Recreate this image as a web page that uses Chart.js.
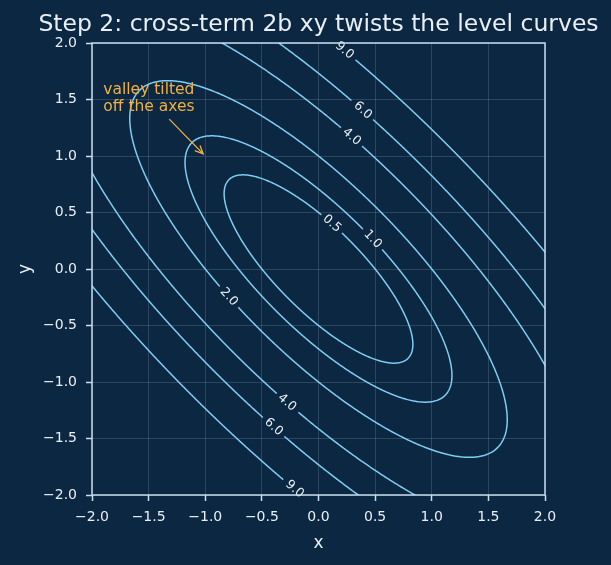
<!DOCTYPE html>
<html>
<head>
<meta charset="utf-8">
<script src="https://cdn.jsdelivr.net/npm/chart.js@4.4.1/dist/chart.umd.min.js"></script>
<style>
  html, body { margin: 0; padding: 0; background: #0b2741; }
  canvas { display: block; }
</style>
</head>
<body>
<canvas id="levelChart" width="611" height="565"></canvas>
<script>
// --- DATA ---
// quadratic form f(x, y) = a x^2 + 2b xy + c y^2
const coefA = 2;
const coefB = 1.6;
const coefC = 2;
const levels = [0.5, 1, 2, 4, 6, 9];

// inline contour labels: level + rough spot where it sits
const labelLevels = [9, 6, 4, 0.5, 1, 2, 4, 6, 9];
const labelX = [0.23, 0.39, 0.29, 0.12, 0.49, -0.80, -0.28, -0.40, -0.21];
const labelY = [1.94, 1.40, 1.16, 0.41, 0.27, -0.25, -1.19, -1.41, -1.94];

const tickValues = [-2, -1.5, -1, -0.5, 0, 0.5, 1, 1.5, 2];

const noteLines = ['valley tilted', 'off the axes'];
const noteText = [-1.9, 1.4];   // bottom-left of the text block
const noteTarget = [-1.0, 1.0];

// --- COLOURS ---
const bgColor = '#0b2741';
const lineColor = '#7fcdf3';
const frameColor = '#c9ddee';
const textColor = '#e9eff5';
const noteColor = '#f0b044';
const FONT = '"DejaVu Sans", "Liberation Sans", sans-serif';

function quad(x, y) {
    return coefA * x * x + 2 * coefB * x * y + coefC * y * y;
}

// move a rough spot onto the level curve
function onLevel(lvl, x, y) {
    const k = Math.sqrt(lvl / quad(x, y));
    return [x * k, y * k];
}

// --- BUILD THE LEVEL CURVES ---
const steps = 720;
const gapRadius = 0.12;

const datasets = levels.map(lvl => {
    const spots = [];
    labelLevels.forEach((l, i) => {
        if (l === lvl) spots.push(onLevel(lvl, labelX[i], labelY[i]));
    });

    const pts = [];
    for (let i = 0; i <= steps; i++) {
        const t = (i / steps) * Math.PI * 2;
        const dx = Math.cos(t), dy = Math.sin(t);
        const r = Math.sqrt(lvl / quad(dx, dy));
        const px = r * dx, py = r * dy;
        const hidden = spots.some(([sx, sy]) => Math.hypot(px - sx, py - sy) < gapRadius);
        pts.push(hidden ? { x: px, y: null } : { x: px, y: py });
    }

    return {
        label: lvl.toFixed(1),
        data: pts,
        showLine: true,
        spanGaps: false,
        borderColor: lineColor,
        borderWidth: 1.5,
        pointRadius: 0,
        // tiny tension keeps Chart.js off its pixel-column fast path (jaggy on steep parts)
        tension: 0.001,
        clip: 0
    };
});

// --- PLUGINS ---
const backdrop = {
    id: 'backdrop',
    beforeDraw(chart) {
        const { ctx, width, height } = chart;
        ctx.save();
        ctx.fillStyle = bgColor;
        ctx.fillRect(0, 0, width, height);
        ctx.restore();
    }
};

const overlay = {
    id: 'overlay',
    afterDatasetsDraw(chart) {
        const { ctx, chartArea: area, scales: { x, y } } = chart;
        const sx = x.getPixelForValue(1) - x.getPixelForValue(0);
        const sy = y.getPixelForValue(1) - y.getPixelForValue(0);

        ctx.save();

        // contour labels
        ctx.font = `12.5px ${FONT}`;
        ctx.fillStyle = textColor;
        ctx.textAlign = 'center';
        ctx.textBaseline = 'middle';
        labelLevels.forEach((lvl, i) => {
            const [px, py] = onLevel(lvl, labelX[i], labelY[i]);
            const gx = 2 * coefA * px + 2 * coefB * py;
            const gy = 2 * coefB * px + 2 * coefC * py;
            let ang = Math.atan2(gx * sy, -gy * sx);
            if (ang > Math.PI / 2) ang -= Math.PI;
            if (ang < -Math.PI / 2) ang += Math.PI;
            ctx.save();
            ctx.translate(x.getPixelForValue(px), y.getPixelForValue(py));
            ctx.rotate(ang);
            ctx.fillText(lvl.toFixed(1), 0, 0);
            ctx.restore();
        });

        // annotation text
        ctx.font = `15.5px ${FONT}`;
        ctx.fillStyle = noteColor;
        ctx.textAlign = 'left';
        ctx.textBaseline = 'alphabetic';
        const lineH = 17;
        const tx = x.getPixelForValue(noteText[0]);
        const ty = y.getPixelForValue(noteText[1]);
        let boxW = 0;
        noteLines.forEach((line, i) => {
            ctx.fillText(line, tx, ty - (noteLines.length - 1 - i) * lineH);
            boxW = Math.max(boxW, ctx.measureText(line).width);
        });

        // arrow from text box to target
        const boxTop = ty - (noteLines.length - 1) * lineH - 12;
        const boxBottom = ty + 4;
        const cx = tx + boxW / 2, cy = (boxTop + boxBottom) / 2;
        const hx = x.getPixelForValue(noteTarget[0]);
        const hy = y.getPixelForValue(noteTarget[1]);
        const dx = hx - cx, dy = hy - cy;
        const len = Math.hypot(dx, dy);
        const ux = dx / len, uy = dy / len;
        const tExit = Math.min(
            Math.abs((boxW / 2) / (ux || 1e-9)),
            Math.abs(((boxBottom - boxTop) / 2) / (uy || 1e-9))
        ) + 6;
        const ax = cx + ux * tExit, ay = cy + uy * tExit;
        const bx = hx - ux * 3, by = hy - uy * 3;
        ctx.strokeStyle = noteColor;
        ctx.lineWidth = 1.3;
        ctx.beginPath();
        ctx.moveTo(ax, ay);
        ctx.lineTo(bx, by);
        const headLen = 9, headAng = 0.42;
        const base = Math.atan2(uy, ux);
        ctx.moveTo(bx - headLen * Math.cos(base - headAng), by - headLen * Math.sin(base - headAng));
        ctx.lineTo(bx, by);
        ctx.lineTo(bx - headLen * Math.cos(base + headAng), by - headLen * Math.sin(base + headAng));
        ctx.stroke();

        // frame (all four spines)
        ctx.strokeStyle = frameColor;
        ctx.lineWidth = 1.5;
        ctx.strokeRect(area.left, area.top, area.right - area.left, area.bottom - area.top);

        ctx.restore();
    },
    afterDraw(chart) {
        const { ctx, chartArea: area } = chart;
        ctx.save();
        ctx.font = `23.5px ${FONT}`;
        ctx.fillStyle = textColor;
        ctx.textAlign = 'center';
        ctx.textBaseline = 'alphabetic';
        ctx.fillText('Step 2: cross-term 2b xy twists the level curves', (area.left + area.right) / 2, 31);
        ctx.restore();
    }
};

// --- CHART ---
const fmtTick = v => Number(v).toFixed(1).replace('-', '\u2212');

function axisOptions(titleText, isX) {
    return {
        type: 'linear',
        min: -2,
        max: 2,
        afterBuildTicks: scale => { scale.ticks = tickValues.map(v => ({ value: v })); },
        afterFit: scale => {
            if (isX) scale.height = 70;
            else scale.width = 92;
        },
        ticks: {
            color: textColor,
            font: { family: FONT, size: 14 },
            padding: isX ? 8 : 9,
            maxRotation: 0,
            autoSkip: false,
            callback: fmtTick
        },
        grid: {
            color: 'rgba(205, 225, 245, 0.17)',
            lineWidth: 1,
            tickColor: frameColor,
            tickWidth: 1.5,
            tickLength: 6,
            drawTicks: true
        },
        border: { display: false },
        title: {
            display: true,
            text: titleText,
            color: textColor,
            font: { family: FONT, size: 17 },
            padding: isX ? { top: 0, bottom: 11 } : { top: 15, bottom: 0 }
        }
    };
}

new Chart(document.getElementById('levelChart'), {
    type: 'scatter',
    data: { datasets },
    options: {
        responsive: false,
        animation: false,
        devicePixelRatio: 1,
        layout: { padding: { top: 43, right: 66, left: 0, bottom: 0 } },
        plugins: {
            legend: { display: false },
            tooltip: { enabled: false }
        },
        scales: {
            x: axisOptions('x', true),
            y: axisOptions('y', false)
        }
    },
    plugins: [backdrop, overlay]
});
</script>
</body>
</html>
